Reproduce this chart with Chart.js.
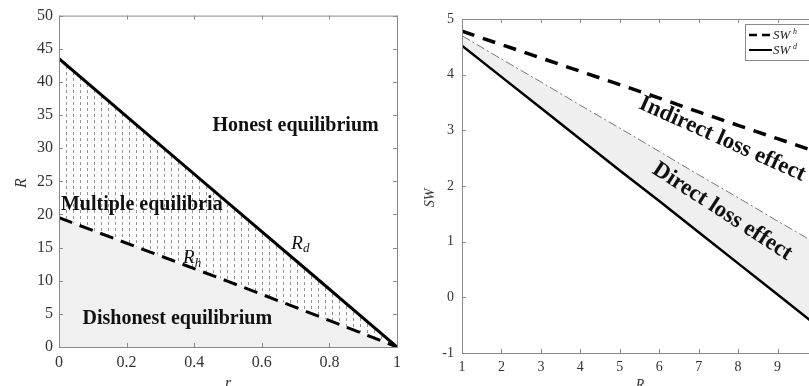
<!DOCTYPE html>
<html>
<head>
<meta charset="utf-8">
<script src="https://cdn.jsdelivr.net/npm/chart.js@4.4.1/dist/chart.umd.min.js"></script>
<style>
  html, body { margin: 0; padding: 0; background: #fff; }
  body { width: 809px; height: 386px; overflow: hidden; position: relative; }
  #left { position: absolute; left: 0; top: 0; }
  #right { position: absolute; left: 420px; top: 0; }
</style>
</head>
<body>
<canvas id="left" width="420" height="386"></canvas>
<canvas id="right" width="420" height="386"></canvas>
<script>
// left panel: thresholds over r
let rValues = [0, 0.25, 0.5, 0.75, 1];
let rdValues = [43.5, 32.6, 21.75, 10.9, 0];
let rhValues = [19.5, 14.7, 9.9, 5.0, 0];
let rTicks = [0, 0.2, 0.4, 0.6, 0.8, 1];
let bigRTicks = [0, 5, 10, 15, 20, 25, 30, 35, 40, 45, 50];

// right panel: social welfare over R
let bigRValues = [1, 2, 3, 4, 5, 6, 7, 8, 9, 10];
let swhValues = [4.78, 4.54, 4.30, 4.06, 3.82, 3.58, 3.33, 3.09, 2.85, 2.61];
let swMidValues = [4.70, 4.28, 3.87, 3.45, 3.04, 2.62, 2.20, 1.79, 1.37, 0.96];
let swdValues = [4.52, 3.96, 3.40, 2.84, 2.28, 1.73, 1.17, 0.61, 0.05, -0.51];
let swTicks = [-1, 0, 1, 2, 3, 4, 5];

const serif = "'Liberation Serif', 'Times New Roman', serif";

function toXY(xs, ys) {
  return xs.map((x, i) => ({ x: x, y: ys[i] }));
}

// small vertical dashes for the "multiple equilibria" region
function makeHatch() {
  let c = document.createElement('canvas');
  c.width = 7;
  c.height = 6;
  let g = c.getContext('2d');
  g.fillStyle = 'rgba(100,100,100,0.7)';
  g.fillRect(3, 0, 1, 3);
  return g.createPattern(c, 'repeat');
}

// matlab style box with inward ticks on all four sides
let boxPlugin = {
  id: 'boxPlugin',
  afterDraw(chart, args, opts) {
    let ctx = chart.ctx;
    let a = chart.chartArea;
    let xs = chart.scales.x, ys = chart.scales.y;
    ctx.save();
    ctx.strokeStyle = '#8a8a8a';
    ctx.lineWidth = 1;
    ctx.strokeRect(a.left + 0.5, a.top + 0.5, a.right - a.left, a.bottom - a.top);
    ctx.beginPath();
    opts.xTicks.forEach(v => {
      let px = Math.round(xs.getPixelForValue(v)) + 0.5;
      ctx.moveTo(px, a.bottom); ctx.lineTo(px, a.bottom - 4);
      ctx.moveTo(px, a.top); ctx.lineTo(px, a.top + 4);
    });
    opts.yTicks.forEach(v => {
      let py = Math.round(ys.getPixelForValue(v)) + 0.5;
      ctx.moveTo(a.left, py); ctx.lineTo(a.left + 4, py);
      ctx.moveTo(a.right, py); ctx.lineTo(a.right - 4, py);
    });
    ctx.stroke();
    ctx.restore();
  }
};

// text labels placed in data coordinates (or pixels)
let textPlugin = {
  id: 'textPlugin',
  afterDraw(chart, args, opts) {
    let ctx = chart.ctx;
    let xs = chart.scales.x, ys = chart.scales.y;
    opts.items.forEach(t => {
      let px = t.px !== undefined ? t.px : xs.getPixelForValue(t.x);
      let py = t.py !== undefined ? t.py : ys.getPixelForValue(t.y);
      ctx.save();
      ctx.translate(px, py);
      ctx.rotate((t.angle || 0) * Math.PI / 180);
      ctx.font = t.font;
      ctx.fillStyle = t.color || '#111';
      ctx.textAlign = 'center';
      ctx.textBaseline = 'middle';
      if (t.sub) {
        let w = ctx.measureText(t.text).width;
        ctx.font = t.subFont;
        let sw = ctx.measureText(t.sub).width;
        ctx.font = t.font;
        ctx.textAlign = 'left';
        ctx.fillText(t.text, -(w + sw) / 2, 0);
        ctx.font = t.subFont;
        ctx.fillText(t.sub, -(w + sw) / 2 + w, 5);
      } else {
        ctx.fillText(t.text, 0, 0);
      }
      ctx.restore();
    });
  }
};

// legend for the right panel, drawn by hand for the superscripts
let legendPlugin = {
  id: 'swLegend',
  afterDraw(chart) {
    let ctx = chart.ctx;
    let x0 = 325, y0 = 24;
    ctx.save();
    ctx.fillStyle = '#fff';
    ctx.fillRect(x0, y0, 100, 36);
    ctx.strokeStyle = '#8a8a8a';
    ctx.lineWidth = 1;
    ctx.strokeRect(x0 + 0.5, y0 + 0.5, 100, 36);
    ctx.strokeStyle = '#000';
    ctx.lineWidth = 2.5;
    ctx.setLineDash([8, 5]);
    ctx.beginPath(); ctx.moveTo(x0 + 4, y0 + 11); ctx.lineTo(x0 + 27, y0 + 11); ctx.stroke();
    ctx.setLineDash([]);
    ctx.lineWidth = 2;
    ctx.beginPath(); ctx.moveTo(x0 + 4, y0 + 26); ctx.lineTo(x0 + 27, y0 + 26); ctx.stroke();
    ctx.fillStyle = '#222';
    ctx.textBaseline = 'middle';
    ctx.font = 'italic 13px ' + serif;
    ctx.fillText('SW', x0 + 28, y0 + 12);
    ctx.fillText('SW', x0 + 28, y0 + 27);
    ctx.font = 'italic 8px ' + serif;
    ctx.fillText('h', x0 + 48, y0 + 8);
    ctx.fillText('d', x0 + 48, y0 + 23);
    ctx.restore();
  }
};

function axis(min, max, step, fontSize, fitKey, fitVal, pad) {
  return {
    type: 'linear',
    min: min,
    max: max,
    grid: { display: false, drawTicks: false },
    border: { display: false },
    ticks: {
      stepSize: step,
      padding: pad,
      color: '#333',
      font: { family: serif, size: fontSize },
      callback: v => String(Math.round(v * 10) / 10)
    },
    afterFit: s => { s[fitKey] = fitVal; }
  };
}

let leftChart = new Chart(document.getElementById('left').getContext('2d'), {
  type: 'line',
  data: {
    datasets: [
      {
        data: toXY(rValues, rhValues),
        borderColor: '#000',
        borderWidth: 3,
        borderDash: [14, 8],
        pointRadius: 0,
        fill: 'origin',
        backgroundColor: '#f0f0f0'
      },
      {
        data: toXY(rValues, rdValues),
        borderColor: '#000',
        borderWidth: 3,
        pointRadius: 0,
        fill: '-1',
        backgroundColor: makeHatch()
      }
    ]
  },
  options: {
    responsive: false,
    animation: false,
    layout: { padding: { top: 15, right: 23, left: 0, bottom: 0 } },
    plugins: {
      legend: { display: false },
      tooltip: { enabled: false },
      boxPlugin: { xTicks: rTicks, yTicks: bigRTicks },
      textPlugin: {
        items: [
          { text: 'Honest equilibrium', x: 0.70, y: 33.4, font: 'bold 20px ' + serif },
          { text: 'Multiple equilibria', x: 0.245, y: 21.4, font: 'bold 20px ' + serif },
          { text: 'Dishonest equilibrium', x: 0.35, y: 4.3, font: 'bold 20px ' + serif },
          { text: 'R', sub: 'd', x: 0.714, y: 15.6, font: 'italic 19px ' + serif, subFont: 'italic 13px ' + serif },
          { text: 'R', sub: 'h', x: 0.394, y: 13.4, font: 'italic 19px ' + serif, subFont: 'italic 13px ' + serif },
          { text: 'R', px: 22, py: 183, angle: -90, font: 'italic 16px ' + serif, color: '#333' },
          { text: 'r', px: 228, py: 384, font: 'italic 16px ' + serif, color: '#333' }
        ]
      }
    },
    scales: {
      x: axis(0, 1, 0.2, 16, 'height', 39, 6),
      y: axis(0, 50, 5, 16, 'width', 59, 6)
    }
  },
  plugins: [boxPlugin, textPlugin]
});

let rightChart = new Chart(document.getElementById('right').getContext('2d'), {
  type: 'line',
  data: {
    datasets: [
      {
        data: toXY(bigRValues, swhValues),
        borderColor: '#000',
        borderWidth: 3.5,
        borderDash: [13, 9],
        pointRadius: 0,
        fill: false
      },
      {
        data: toXY(bigRValues, swMidValues),
        borderColor: '#777',
        borderWidth: 1,
        borderDash: [9, 3, 2, 3],
        pointRadius: 0,
        fill: false
      },
      {
        data: toXY(bigRValues, swdValues),
        borderColor: '#000',
        borderWidth: 2.5,
        pointRadius: 0,
        fill: '-1',
        backgroundColor: '#efefef'
      }
    ]
  },
  options: {
    responsive: false,
    animation: false,
    layout: { padding: { top: 19, right: 23, left: 0, bottom: 0 } },
    plugins: {
      legend: { display: false },
      tooltip: { enabled: false },
      boxPlugin: { xTicks: bigRValues, yTicks: swTicks },
      textPlugin: {
        items: [
          { text: 'Indirect loss effect', x: 7.6, y: 2.84, angle: 24, font: 'bold 23px ' + serif },
          { text: 'Direct loss effect', x: 7.6, y: 1.54, angle: 33, font: 'bold 23px ' + serif },
          { text: 'SW', px: 10, py: 198, angle: -90, font: 'italic 14px ' + serif, color: '#333' },
          { text: 'R', px: 220, py: 385, font: 'italic 14px ' + serif, color: '#333' }
        ]
      }
    },
    scales: {
      x: axis(1, 10, 1, 14, 'height', 33, 6),
      y: axis(-1, 5, 1, 14, 'width', 42, 8)
    }
  },
  plugins: [boxPlugin, textPlugin, legendPlugin]
});
</script>
</body>
</html>
